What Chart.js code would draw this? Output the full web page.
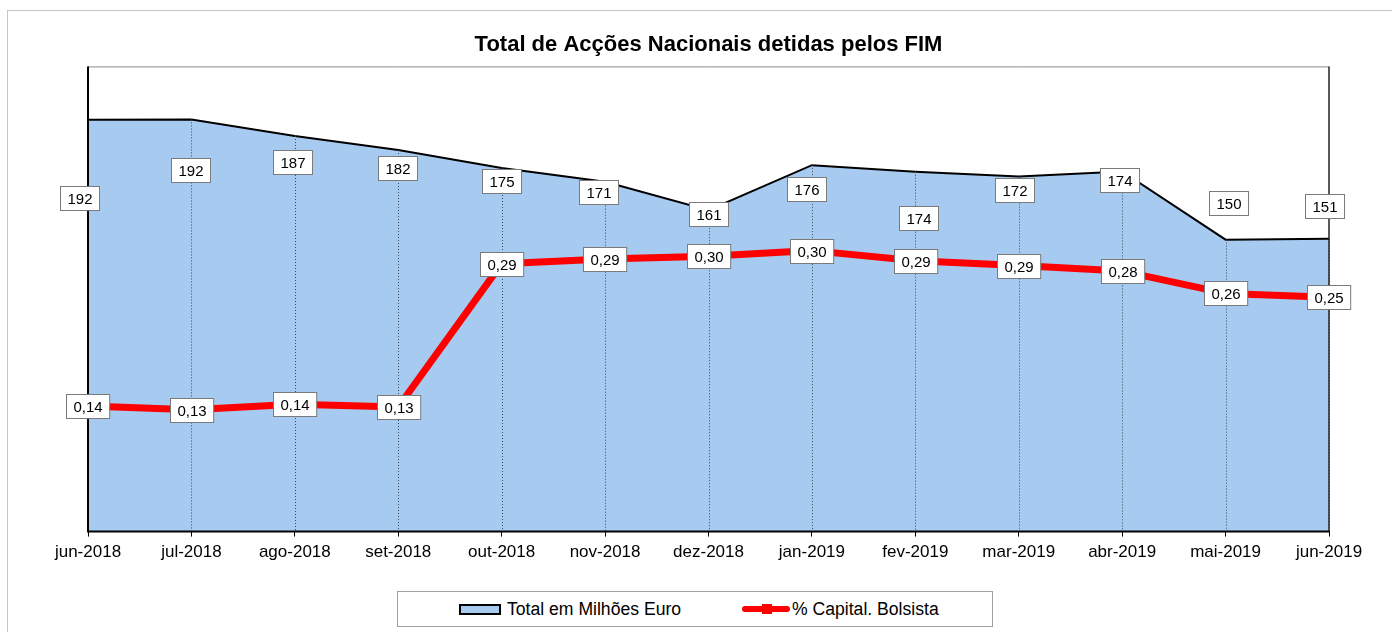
<!DOCTYPE html>
<html lang="pt">
<head>
<meta charset="UTF-8">
<title>Total de Acções Nacionais detidas pelos FIM</title>
<script src="https://cdn.jsdelivr.net/npm/chart.js"></script>
<style>
    html, body { margin: 0; padding: 0; background: #fff; overflow: hidden; }
    body { width: 1392px; height: 632px; position: relative; font-family: "Liberation Sans", Arial, sans-serif; }
    .frame { position: absolute; left: 7px; top: 10px; width: 1400px; height: 640px; border: 1px solid #c6c6c6; }
    #wrap { position: absolute; left: 0; top: 0; width: 1392px; height: 632px; }
    .legend { position: absolute; left: 397px; top: 591px; width: 594px; height: 34px; border: 1px solid #a0a0a0; background: #fff; font-size: 17.6px; color: #000; }
    .legend span { position: absolute; top: 0; height: 34px; line-height: 34px; white-space: nowrap; }
    .sym-area { position: absolute; left: 61px; top: 12px; width: 38px; height: 7px; background: #A6CAF0; border: 2px solid #000; }
    .sym-line { position: absolute; left: 344px; top: 14px; width: 48px; height: 6px; background: #f00; border-radius: 3px; }
    .sym-mark { position: absolute; left: 364px; top: 12px; width: 10px; height: 10px; background: #f00; }
</style>
</head>
<body>
    <div class="frame"></div>
    <div id="wrap"><canvas id="fim-chart"></canvas></div>
    <div class="legend">
        <div class="sym-area"></div>
        <span style="left:109px">Total em Milhões Euro</span>
        <div class="sym-line"></div>
        <div class="sym-mark"></div>
        <span style="left:394px">% Capital. Bolsista</span>
    </div>

<script>
    // meses
    const months = ['jun-2018', 'jul-2018', 'ago-2018', 'set-2018', 'out-2018', 'nov-2018', 'dez-2018',
                    'jan-2019', 'fev-2019', 'mar-2019', 'abr-2019', 'mai-2019', 'jun-2019'];
    // Total em Milhões Euro (area)
    const totalMilhoes = [192.3, 192.4, 186.6, 181.7, 175.4, 170.6, 160.6, 176.4, 174.1, 172.4, 174.2, 150.3, 150.6];
    // % Capital. Bolsista (linha)
    const capitalBolsista = [0.135, 0.131, 0.137, 0.134, 0.288, 0.293, 0.296, 0.302, 0.291, 0.286, 0.280, 0.256, 0.252];

    // where the area labels sit, relative to their point (px)
    const totalLabelShift = [[-8, 78], [-1, 51], [-2, 26], [-1, 18], [0, 13], [-7, 10], [0, 4],
                             [-5, 24], [3, 46], [-4, 13], [-3, 9], [3, -37], [-4, -33]];

    Chart.defaults.font.family = '"Liberation Sans", Arial, sans-serif';
    Chart.defaults.color = '#000';

    function drawBox(ctx, text, x, y) {
        ctx.font = '15px "Liberation Sans", Arial, sans-serif';
        const w = ctx.measureText(text).width + 14;
        const h = 24;
        const bx = Math.round(x - w / 2) + 0.5, by = Math.round(y - h / 2) + 0.5;
        ctx.fillStyle = '#fff';
        ctx.fillRect(bx, by, w, h);
        ctx.strokeStyle = '#7a7a7a';
        ctx.lineWidth = 1;
        ctx.strokeRect(bx, by, w, h);
        ctx.fillStyle = '#000';
        ctx.textAlign = 'center';
        ctx.textBaseline = 'middle';
        ctx.fillText(text, bx + w / 2, by + h / 2 + 1);
    }

    const framePlugin = {
        id: 'frameAndLabels',
        afterDraw(chart) {
            const ctx = chart.ctx;
            const a = chart.chartArea;
            const areaMeta = chart.getDatasetMeta(1);
            const lineMeta = chart.getDatasetMeta(0);
            ctx.save();

            // drop lines from the area points down to the axis
            ctx.strokeStyle = '#3c4656';
            ctx.lineWidth = 1;
            ctx.setLineDash([1, 2]);
            areaMeta.data.forEach(pt => {
                const x = Math.round(pt.x) + 0.5;
                ctx.beginPath(); ctx.moveTo(x, pt.y); ctx.lineTo(x, a.bottom); ctx.stroke();
            });
            ctx.setLineDash([]);

            // plot frame
            ctx.strokeStyle = '#8a8a8a';
            ctx.lineWidth = 1;
            ctx.beginPath(); ctx.moveTo(a.left, a.top + 0.5); ctx.lineTo(a.right, a.top + 0.5); ctx.stroke();
            ctx.strokeStyle = '#000';
            ctx.lineWidth = 2;
            ctx.beginPath(); ctx.moveTo(a.left, a.top); ctx.lineTo(a.left, a.bottom + 1); ctx.stroke();
            ctx.beginPath(); ctx.moveTo(a.left, a.bottom); ctx.lineTo(a.right + 1, a.bottom); ctx.stroke();
            ctx.strokeStyle = '#222';
            ctx.lineWidth = 1.5;
            ctx.beginPath(); ctx.moveTo(a.right, a.top); ctx.lineTo(a.right, a.bottom); ctx.stroke();

            // data labels
            areaMeta.data.forEach((pt, i) => {
                const s = totalLabelShift[i];
                drawBox(ctx, String(Math.round(totalMilhoes[i])), pt.x + s[0], pt.y + s[1]);
            });
            lineMeta.data.forEach((pt, i) => {
                drawBox(ctx, capitalBolsista[i].toFixed(2).replace('.', ','), pt.x, pt.y);
            });
            ctx.restore();
        }
    };

    const ctxFim = document.getElementById('fim-chart').getContext('2d');
    const fimChart = new Chart(ctxFim, {
        type: 'line',
        data: {
            labels: months,
            datasets: [{
                label: '% Capital. Bolsista',
                data: capitalBolsista,
                yAxisID: 'y1',
                borderColor: '#ff0000',
                borderWidth: 7,
                borderJoinStyle: 'round',
                pointRadius: 0,
                fill: false,
                tension: 0,
                order: 0
            },
            {
                label: 'Total em Milhões Euro',
                data: totalMilhoes,
                yAxisID: 'y',
                borderColor: '#000',
                borderWidth: 2,
                backgroundColor: '#A6CAF0',
                fill: 'start',
                pointRadius: 0,
                tension: 0,
                order: 1
            }]
        },
        options: {
            responsive: true,
            maintainAspectRatio: false,
            animation: false,
            layout: { padding: { left: 88, right: 63, top: 0, bottom: 63 } },
            scales: {
                x: {
                    offset: false,
                    grid: { drawOnChartArea: false, tickLength: 5, tickColor: '#000', lineWidth: 1 },
                    border: { display: false },
                    ticks: { color: '#000', font: { size: 17 }, padding: 6, maxRotation: 0, autoSkip: false }
                },
                y: { display: false, min: 48, max: 211 },
                y1: { display: false, position: 'right', min: 0, max: 0.5 }
            },
            plugins: {
                legend: { display: false },
                tooltip: { enabled: false },
                title: {
                    display: true,
                    text: 'Total de Acções Nacionais detidas pelos FIM',
                    color: '#000',
                    font: { size: 22, weight: 'bold' },
                    padding: { top: 32, bottom: 8 }
                }
            }
        },
        plugins: [framePlugin]
    });
</script>
</body>
</html>
